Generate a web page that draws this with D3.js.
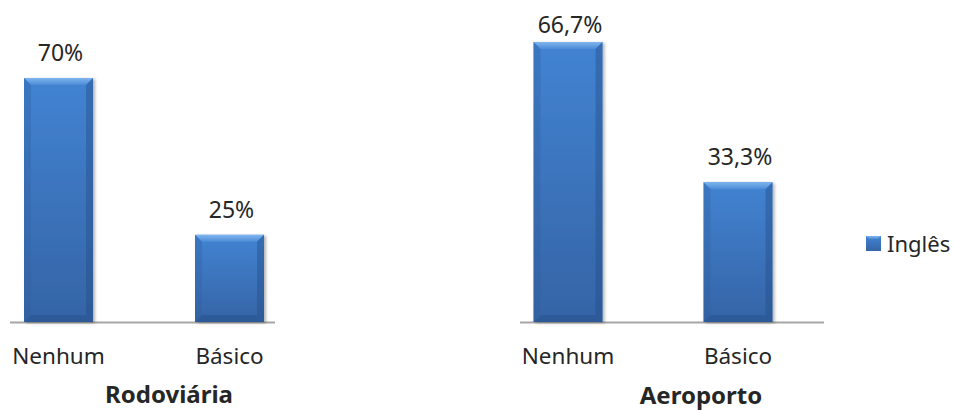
<!DOCTYPE html>
<html>
<head>
<meta charset="utf-8">
<script src="https://cdn.jsdelivr.net/npm/d3@7"></script>
<style>
  body { margin: 0; background: #fff; }
  text { font-family: "Noto Sans", "Open Sans", sans-serif; fill: #262626; }
</style>
</head>
<body>
<div id="chart"></div>
<script>
const width = 954;
const height = 410;

// data
const categories = ["Nenhum", "Básico"];
const rodoviariaValues = [70, 25];
const rodoviariaLabels = ["70%", "25%"];
const aeroportoValues = [66.7, 33.3];
const aeroportoLabels = ["66,7%", "33,3%"];
const panelTitles = ["Rodoviária", "Aeroporto"];
const seriesName = "Inglês";

const svg = d3.select("#chart").append("svg")
    .attr("width", width)
    .attr("height", height);

const defs = svg.append("defs");

// body gradient of the bar
const body = defs.append("linearGradient").attr("id", "barBody")
    .attr("x1", 0).attr("y1", 0).attr("x2", 0).attr("y2", 1);
body.append("stop").attr("offset", "0%").attr("stop-color", "#4283d2");
body.append("stop").attr("offset", "100%").attr("stop-color", "#3564a6");

const topBevel = defs.append("linearGradient").attr("id", "barTop")
    .attr("x1", 0).attr("y1", 0).attr("x2", 0).attr("y2", 1);
topBevel.append("stop").attr("offset", "0%").attr("stop-color", "#80b5ee");
topBevel.append("stop").attr("offset", "100%").attr("stop-color", "#4b8bd7");

const shadow = defs.append("filter").attr("id", "shadow")
    .attr("x", "-20%").attr("y", "-10%").attr("width", "140%").attr("height", "120%");
shadow.append("feDropShadow").attr("dx", 2).attr("dy", 1)
    .attr("stdDeviation", 1.5).attr("flood-color", "#000").attr("flood-opacity", 0.3);

const baseline = 322;
const bevel = 7;

// one panel per location
const panels = [
    { title: panelTitles[0], values: rodoviariaValues, labels: rodoviariaLabels,
      centers: [58.5, 229.5], axis: [10, 275], top: 78, titleX: 169, titleY: 403 },
    { title: panelTitles[1], values: aeroportoValues, labels: aeroportoLabels,
      centers: [568, 738], axis: [520, 824], top: 42, titleX: 701, titleY: 404 }
];

panels.forEach(p => {
    const x = d3.scalePoint().domain(categories).range(p.centers);
    const y = d3.scaleLinear().domain([0, d3.max(p.values)]).range([baseline, p.top]);
    const barW = 69;

    const g = svg.append("g");

    // axis line
    g.append("line")
        .attr("x1", p.axis[0]).attr("x2", p.axis[1])
        .attr("y1", baseline + 0.5).attr("y2", baseline + 0.5)
        .attr("stroke", "#a6a6a6").attr("stroke-width", 2);

    const bars = g.selectAll("g.bar")
        .data(categories.map((c, i) => ({ cat: c, v: p.values[i], label: p.labels[i] })))
        .enter().append("g").attr("class", "bar");

    bars.each(function (d) {
        const b = d3.select(this);
        const x0 = x(d.cat) - barW / 2;
        const x1 = x0 + barW;
        const y0 = y(d.v);
        const y1 = baseline;

        b.append("rect")
            .attr("x", x0).attr("y", y0)
            .attr("width", barW).attr("height", y1 - y0)
            .attr("fill", "url(#barBody)")
            .attr("filter", "url(#shadow)");

        // bevel facets
        b.append("polygon")
            .attr("points", [[x0, y0], [x1, y0], [x1 - bevel, y0 + bevel], [x0 + bevel, y0 + bevel]].join(" "))
            .attr("fill", "url(#barTop)");
        b.append("polygon")
            .attr("points", [[x0, y0], [x0 + bevel, y0 + bevel], [x0 + bevel, y1 - bevel], [x0, y1]].join(" "))
            .attr("fill", "#2f5d9c").attr("opacity", 0.3);
        b.append("polygon")
            .attr("points", [[x1, y0], [x1 - bevel, y0 + bevel], [x1 - bevel, y1 - bevel], [x1, y1]].join(" "))
            .attr("fill", "#244b82").attr("opacity", 0.4);
        b.append("polygon")
            .attr("points", [[x0, y1], [x0 + bevel, y1 - bevel], [x1 - bevel, y1 - bevel], [x1, y1]].join(" "))
            .attr("fill", "#244b82").attr("opacity", 0.4);

        // value label
        b.append("text")
            .attr("x", x(d.cat) + 2)
            .attr("y", Math.max(y0 - 17, 33))
            .attr("text-anchor", "middle")
            .attr("font-size", 23)
            .text(d.label);

        // category label
        b.append("text")
            .attr("x", x(d.cat))
            .attr("y", 364)
            .attr("text-anchor", "middle")
            .attr("font-size", 22.5)
            .text(d.cat);
    });

    g.append("text")
        .attr("x", p.titleX)
        .attr("y", p.titleY)
        .attr("text-anchor", "middle")
        .attr("font-size", 24)
        .attr("font-weight", "bold")
        .attr("fill", "#000")
        .text(p.title);
});

// legend
const legend = svg.append("g").attr("transform", "translate(866,236)");
legend.append("rect").attr("width", 15).attr("height", 15).attr("fill", "url(#barBody)");
legend.append("polygon").attr("points", "0,0 15,0 12,3 3,3").attr("fill", "url(#barTop)");
legend.append("text")
    .attr("x", 21).attr("y", 16)
    .attr("font-size", 22)
    .text(seriesName);
</script>
</body>
</html>
